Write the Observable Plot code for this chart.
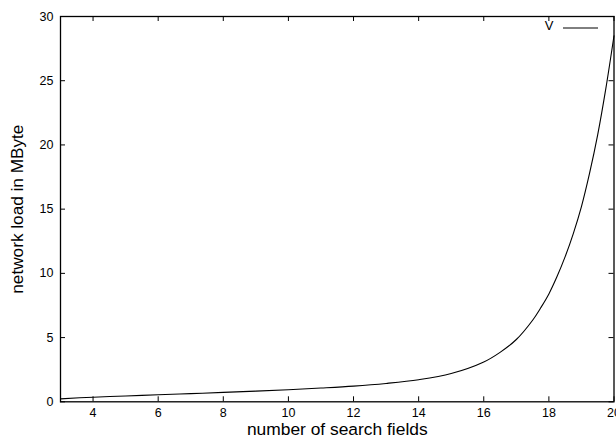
<!DOCTYPE html>
<html><head><meta charset="utf-8">
<script src="https://cdn.jsdelivr.net/npm/d3@7"></script>
<script src="https://cdn.jsdelivr.net/npm/@observablehq/plot@0.6"></script>
<style>body{margin:0;background:#fff} svg{overflow:visible}</style>
</head><body><div id="chart"></div>
<script>
const searchFields = [3, 4, 5, 6, 7, 8, 9, 10, 11, 12, 13, 14, 15, 16, 16.5, 17, 17.5, 17.75, 18, 18.25, 18.5, 18.75, 19, 19.25, 19.5, 19.75, 20];
const networkLoad  = [0.23, 0.36, 0.45, 0.55, 0.64, 0.73, 0.83, 0.94, 1.07, 1.22, 1.43, 1.72, 2.2, 3.1, 3.85, 4.85, 6.35, 7.32, 8.4, 9.75, 11.3, 13.1, 15.2, 17.8, 20.8, 24.4, 28.5];
const xTicks = [4, 6, 8, 10, 12, 14, 16, 18, 20];
const yTicks = [0, 5, 10, 15, 20, 25, 30];
const seriesName = "V";
const xLabel = "number of search fields";
const yLabel = "network load in MByte";

const data = searchFields.map((x, i) => ({x, y: networkLoad[i]}));
const W = 616, H = 437, mL = 60, mR = 2.5, mT = 16, mB = 35.7;
const fw = W - mL - mR, fh = H - mT - mB;
const tk = 5;

const plot = Plot.plot({
  width: W, height: H,
  marginLeft: mL, marginRight: mR, marginTop: mT, marginBottom: mB,
  style: {fontFamily: "'Liberation Sans', Arial, sans-serif", fontSize: "12.5px", background: "white", color: "black", overflow: "visible"},
  x: {domain: [3, 20]},
  y: {domain: [0, 30]},
  marks: [
    Plot.axisX(xTicks, {tickSize: 0, tickPadding: 6, label: null, fontSize: 12.5}),
    Plot.axisY(yTicks, {tickSize: 0, tickPadding: 7, label: null, fontSize: 12.5}),
    Plot.tickX(xTicks, {x: d => d, insetTop: fh - tk, stroke: "black"}),
    Plot.tickX(xTicks, {x: d => d, insetBottom: fh - tk, stroke: "black"}),
    Plot.tickY(yTicks, {y: d => d, insetRight: fw - tk, stroke: "black"}),
    Plot.tickY(yTicks, {y: d => d, insetLeft: fw - tk, stroke: "black"}),
    Plot.line(data, {x: "x", y: "y", curve: "catmull-rom", stroke: "black", strokeWidth: 1.1}),
    Plot.frame({stroke: "black", strokeWidth: 1.3}),
    Plot.text([xLabel], {frameAnchor: "bottom", dy: 27.5, lineAnchor: "middle", textAnchor: "middle", fontSize: 17.4}),
    Plot.text([yLabel], {frameAnchor: "left", rotate: -90, dx: -43.5, lineAnchor: "middle", textAnchor: "middle", fontSize: 17.2}),
    Plot.text([seriesName], {frameAnchor: "top-right", dx: -60.5, dy: 9, lineAnchor: "middle", textAnchor: "end", fontSize: 13})
  ]
});
const svg = d3.select(plot);
svg.append("line")
  .attr("x1", W - mR - 50.5).attr("x2", W - mR - 15.5)
  .attr("y1", mT + 12).attr("y2", mT + 12)
  .attr("stroke", "black").attr("stroke-width", 1);
document.getElementById("chart").appendChild(plot);
</script>
</body></html>
